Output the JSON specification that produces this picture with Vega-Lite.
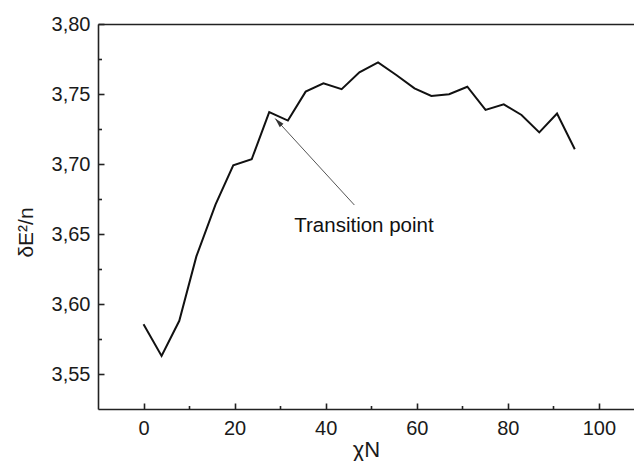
{
  "$schema": "https://vega.github.io/schema/vega-lite/v6.json",
  "width": 536,
  "height": 385,
  "autosize": {"type": "none"},
  "padding": {"left": 98, "top": 24, "right": 0, "bottom": 52},
  "background": "#ffffff",
  "config": {
    "view": {"stroke": null},
    "font": "Liberation Sans",
    "axis": {"grid": false, "labelFont": "Liberation Sans", "titleFont": "Liberation Sans", "labelColor": "#1a1a1a", "titleColor": "#1a1a1a", "titleFontWeight": "normal", "labelOverlap": false, "labelFlush": false, "domainColor": "#222222", "domainWidth": 1.6, "tickColor": "#222222", "tickWidth": 1.6}
  },
  "datasets": {
    "curve": [
      {"x": 0, "y": 3.5855},
      {"x": 3.96, "y": 3.5629},
      {"x": 7.85, "y": 3.588},
      {"x": 11.6, "y": 3.634},
      {"x": 15.8, "y": 3.671},
      {"x": 19.7, "y": 3.699},
      {"x": 23.75, "y": 3.7034},
      {"x": 27.6, "y": 3.737},
      {"x": 31.7, "y": 3.731},
      {"x": 35.6, "y": 3.7517},
      {"x": 39.5, "y": 3.7576},
      {"x": 43.5, "y": 3.7534},
      {"x": 47.4, "y": 3.7655},
      {"x": 51.5, "y": 3.7726},
      {"x": 55.5, "y": 3.7636},
      {"x": 59.5, "y": 3.754},
      {"x": 63.2, "y": 3.7486},
      {"x": 67.1, "y": 3.7498},
      {"x": 71.1, "y": 3.7552},
      {"x": 75.1, "y": 3.7386},
      {"x": 79.1, "y": 3.7426},
      {"x": 83.0, "y": 3.735},
      {"x": 86.9, "y": 3.7226},
      {"x": 90.8, "y": 3.736},
      {"x": 94.7, "y": 3.7105}
    ],
    "arrow": [
      {"x": 46.3, "y": 3.6707, "x2": 28.9, "y2": 3.7325}
    ],
    "label": [
      {"x": 33.1, "y": 3.6514, "text": "Transition point"}
    ]
  },
  "resolve": {"axis": {"x": "independent", "y": "independent"}},
  "layer": [
    {
      "data": {"name": "curve"},
      "mark": {"type": "line", "color": "#111111", "strokeWidth": 2, "strokeJoin": "miter"},
      "encoding": {
        "x": {
          "field": "x", "type": "quantitative",
          "scale": {"domain": [-10, 107.7], "nice": false, "zero": false},
          "axis": {
            "orient": "bottom", "title": "χN", "titleFontSize": 22, "titlePadding": 1,
            "values": [0, 20, 40, 60, 80, 100],
            "ticks": true, "tickSize": -6,
            "labelFontSize": 20, "labelPadding": 15
          }
        },
        "y": {
          "field": "y", "type": "quantitative",
          "scale": {"domain": [3.525, 3.80], "nice": false, "zero": false},
          "axis": {
            "orient": "left", "title": "δE²/n", "titleFontSize": 21, "titleAngle": -90, "titleAlign": "center", "titleBaseline": "middle", "titleX": -72, "titleY": 208,
            "values": [3.55, 3.6, 3.65, 3.7, 3.75, 3.8],
            "ticks": true, "tickSize": -6,
            "labelExpr": "replace(format(datum.value, '.2f'), '.', ',')",
            "labelFontSize": 20, "labelPadding": 14
          }
        }
      }
    },
    {
      "data": {"name": "arrow"},
      "mark": {"type": "rule", "color": "#555555", "strokeWidth": 1},
      "encoding": {
        "x": {"field": "x", "type": "quantitative",
          "axis": {"orient": "bottom", "values": [10, 30, 50, 70, 90], "ticks": true, "tickSize": -3.5, "labels": false, "domain": false, "title": null}},
        "y": {"field": "y", "type": "quantitative",
          "axis": {"orient": "left", "values": [3.575, 3.625, 3.675, 3.725, 3.775], "ticks": true, "tickSize": -3.5, "labels": false, "domain": false, "title": null}},
        "x2": {"field": "x2"},
        "y2": {"field": "y2"}
      }
    },
    {
      "data": {"name": "arrow"},
      "mark": {"type": "point", "shape": "M0,0L-0.8,3L0.8,3Z", "size": 40, "filled": true, "color": "#333333", "opacity": 1, "angle": 317},
      "encoding": {
        "x": {"field": "x2", "type": "quantitative",
          "axis": {"orient": "top", "ticks": false, "labels": false, "domain": true, "title": null}},
        "y": {"field": "y2", "type": "quantitative", "axis": null}
      }
    },
    {
      "data": {"name": "label"},
      "mark": {"type": "text", "align": "left", "baseline": "alphabetic", "fontSize": 20.5, "font": "Liberation Sans", "color": "#111111"},
      "encoding": {
        "x": {"field": "x", "type": "quantitative", "axis": null},
        "y": {"field": "y", "type": "quantitative", "axis": null},
        "text": {"field": "text"}
      }
    }
  ]
}
